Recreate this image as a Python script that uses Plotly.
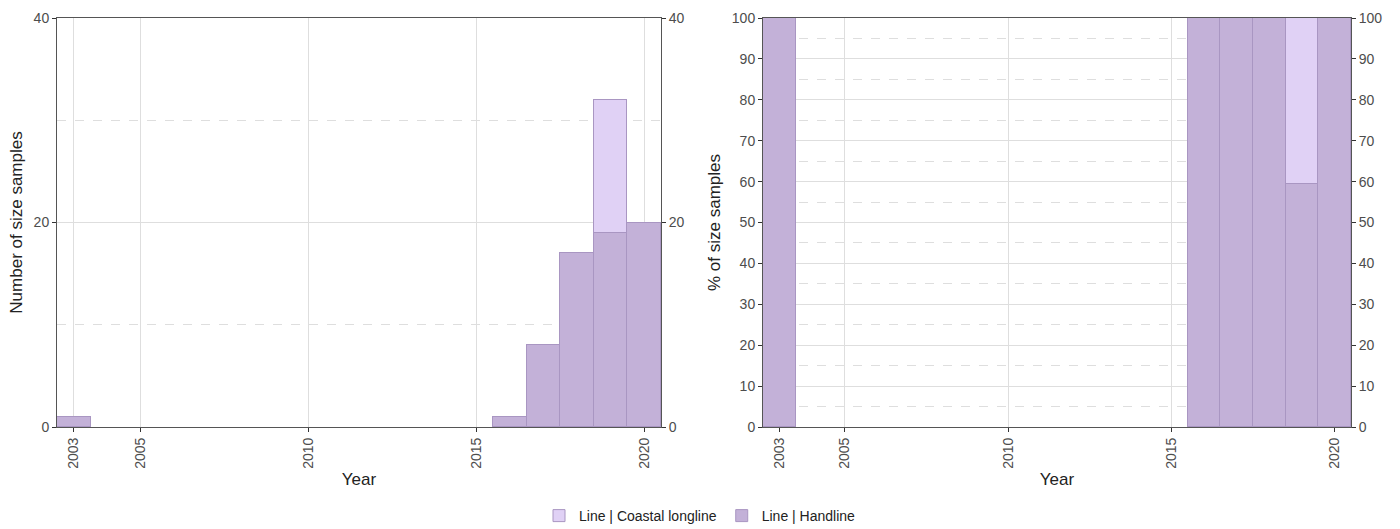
import plotly.graph_objects as go

# Sample counts by year and gear
years = [2003, 2016, 2017, 2018, 2019, 2020]
handline_n = [1, 1, 8, 17, 19, 20]
coastal_n = [0, 0, 0, 0, 13, 0]

# Share of size samples (%) by year and gear
handline_pct = [100, 100, 100, 100, 59.4, 100]
coastal_pct = [0, 0, 0, 0, 40.6, 0]

year_ticks = [2003, 2005, 2010, 2015, 2020]

c_hand = "#c3b1d8"
c_coast = "#e0d1f5"
c_edge = "#a996c2"
grid = "#dedede"
axis_line = "#555555"
FONT = "Liberation Sans, Arial, sans-serif"
tick_font = dict(family=FONT, size=14, color="#4d4d4d")
title_font = dict(family=FONT, size=17, color="#222222")

fig = go.Figure()

def add_bars(xa, ya, hand, coast, show):
    fig.add_trace(go.Bar(x=years, y=hand, name="Line | Handline",
                         marker=dict(color=c_hand, line=dict(color=c_edge, width=1)),
                         width=1, xaxis=xa, yaxis=ya, showlegend=show))
    fig.add_trace(go.Bar(x=years, y=coast, name="Line | Coastal longline",
                         marker=dict(color=c_coast, line=dict(color=c_edge, width=1)),
                         width=1, xaxis=xa, yaxis=ya, showlegend=show))

add_bars("x", "y", handline_n, coastal_n, True)
add_bars("x2", "y2", handline_pct, coastal_pct, False)

# invisible traces to carry the mirrored right-hand axes
fig.add_trace(go.Scatter(x=[2003], y=[0], xaxis="x", yaxis="y3", mode="markers",
                         marker=dict(opacity=0), showlegend=False, hoverinfo="skip"))
fig.add_trace(go.Scatter(x=[2003], y=[0], xaxis="x2", yaxis="y4", mode="markers",
                         marker=dict(opacity=0), showlegend=False, hoverinfo="skip"))

y_top = 1 - 18 / 529
y_bot = 1 - 427 / 529
dom1 = [57 / 1400, 661 / 1400]
dom2 = [763 / 1400, 1351 / 1400]

def xaxis(domain, anchor):
    return dict(domain=domain, anchor=anchor, range=[2002.5, 2020.5], tickvals=year_ticks, tickangle=-90,
                showgrid=True, gridcolor=grid, gridwidth=1, zeroline=False,
                showline=True, linecolor=axis_line, linewidth=1, mirror=True,
                ticks="outside", ticklen=4, tickcolor="#333333", tickfont=tick_font,
                title=dict(text="Year", font=title_font, standoff=5))

def yaxis(anchor, rng, dtick, minor, title):
    return dict(domain=[y_bot, y_top], anchor=anchor, range=rng, dtick=dtick, tick0=0,
                showgrid=True, gridcolor=grid, gridwidth=1, zeroline=False,
                showline=True, linecolor=axis_line, linewidth=1,
                ticks="outside", ticklen=4, tickcolor="#333333", tickfont=tick_font,
                minor=dict(dtick=minor, tick0=minor, showgrid=True, gridcolor=grid, griddash="dash", ticks=""),
                title=dict(text=title, font=title_font, standoff=6))

def yaxis_right(overlay, anchor, rng, dtick):
    return dict(overlaying=overlay, side="right", anchor=anchor, range=rng, dtick=dtick, tick0=0,
                showgrid=False, zeroline=False, showline=True, linecolor=axis_line, linewidth=1,
                ticks="outside", ticklen=4, tickcolor="#333333", tickfont=tick_font)

fig.update_layout(
    width=1400, height=529,
    margin=dict(l=0, r=0, t=0, b=0, autoexpand=False),
    paper_bgcolor="white", plot_bgcolor="white",
    barmode="stack", bargap=0,
    xaxis=xaxis(dom1, "y"),
    xaxis2=xaxis(dom2, "y2"),
    yaxis=yaxis("x", [0, 40], 20, 10, "Number of size samples"),
    yaxis2=yaxis("x2", [0, 100], 10, 5, "% of size samples"),
    yaxis3=yaxis_right("y", "x", [0, 40], 20),
    yaxis4=yaxis_right("y2", "x2", [0, 100], 10),
    legend=dict(orientation="h", x=0.5, xanchor="center", y=1 - 516 / 529, yanchor="middle",
                traceorder="reversed",
                font=dict(family=FONT, size=14, color="#222222")),
    showlegend=True,
)

fig.write_html("out.html")
